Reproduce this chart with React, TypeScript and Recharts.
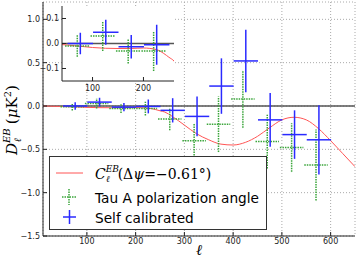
import React from 'react';
import { ComposedChart, Line, Scatter, ErrorBar, XAxis, YAxis, CartesianGrid, ReferenceLine } from 'recharts';

// multipole bins (centres) and half widths
const binCenters = [75, 125, 175, 225, 275, 325, 375, 425, 475, 525, 575];
const selfCalShift = 1;
const tauAShift = -5;
const selfCalHalfWidth = 25;
const tauAHalfWidth = 24;

// Self calibrated D_l^EB
const selfCal = [0.0, 0.045, -0.013, -0.005, -0.05, -0.12, 0.23, 0.52, -0.16, -0.33, -0.39];
const selfCalErr = [0.043, 0.05, 0.047, 0.08, 0.14, 0.23, 0.32, 0.36, 0.31, 0.28, 0.4];

// Tau A polarization angle D_l^EB
const tauA = [-0.01, 0.03, -0.03, -0.03, -0.15, -0.4, -0.21, 0.08, -0.41, -0.48, -0.68];
const tauAErr = [0.043, 0.06, 0.05, 0.08, 0.13, 0.2, 0.32, 0.33, 0.31, 0.28, 0.41];

// model curve C_l^EB (dpsi = -0.61 deg)
const curveEll = [10, 25, 50, 75, 100, 125, 150, 175, 200, 225, 240, 250, 260, 275, 300, 325, 350, 375, 400, 425, 450, 475, 500, 525, 550, 575, 600, 625, 650];
const curveEB = [0, -0.002, -0.006, -0.011, -0.016, -0.019, -0.02, -0.02, -0.018, -0.024, -0.04, -0.055, -0.07, -0.12, -0.22, -0.32, -0.39, -0.44, -0.45, -0.42, -0.35, -0.25, -0.16, -0.13, -0.16, -0.26, -0.4, -0.55, -0.7];

const xTicks = [100, 200, 300, 400, 500, 600];
const yTicks = [-1.5, -1.0, -0.5, 0.0, 0.5, 1.0];
const insetXTicks = [100, 200];
const insetYTicks = [-0.1, 0.0, 0.1];
const insetBins = 4;

const selfData = binCenters.map((c, i) => ({ l: c + selfCalShift, v: selfCal[i], dx: selfCalHalfWidth, dy: selfCalErr[i] }));
const tauData = binCenters.map((c, i) => ({ l: c + tauAShift, v: tauA[i], dx: tauAHalfWidth, dy: tauAErr[i] }));
const curveData = curveEll.map((l, i) => ({ l, v: curveEB[i] }));

const BLUE = '#2a2aff';
const GREEN = '#3aa53a';
const RED = '#ff5555';
const AXIS = '#222';
const fmt = (v: number) => v.toFixed(1).replace('-', '\u2212');
const tickStyle = { fill: '#222', fontSize: 8, fontFamily: 'DejaVu Sans' };
const Empty = () => <g />;

export default function App() {
  return (
    <div style={{ position: 'absolute', left: 0, top: 0, width: 357, height: 261, background: '#fff' }}>
      <div style={{ position: 'absolute', left: 0, top: 0 }}>
        <ComposedChart width={357} height={261} margin={{ top: 2, right: 2, bottom: 0, left: 13 }}>
          <CartesianGrid stroke="#aaa" strokeDasharray="1 2" />
          <XAxis dataKey="l" type="number" domain={[10, 650]} allowDataOverflow ticks={xTicks} interval={0}
            height={25} tickSize={-4} tickMargin={6} tick={tickStyle} stroke={AXIS} />
          <XAxis xAxisId="top" orientation="top" type="number" domain={[10, 650]} allowDataOverflow ticks={xTicks}
            interval={0} height={0} tickSize={-4} tick={false} stroke={AXIS} />
          <YAxis dataKey="v" type="number" domain={[-1.5, 1.2]} allowDataOverflow ticks={yTicks} interval={0}
            width={30} tickSize={-4} tickMargin={7} tick={tickStyle} tickFormatter={fmt} stroke={AXIS} />
          <YAxis yAxisId="right" orientation="right" type="number" domain={[-1.5, 1.2]} allowDataOverflow ticks={yTicks}
            interval={0} width={0} tickSize={-4} tick={false} stroke={AXIS} />
          <ReferenceLine y={0} stroke="#555" strokeWidth={1.5} />
          <Line data={curveData} dataKey="v" type="monotone" stroke={RED} strokeWidth={1} dot={false} isAnimationActive={false} />
          <Scatter data={tauData} dataKey="v" shape={Empty} isAnimationActive={false}>
            <ErrorBar dataKey="dx" direction="x" width={0} stroke={GREEN} strokeWidth={1.5} strokeDasharray="1.5 1" />
            <ErrorBar dataKey="dy" direction="y" width={0} stroke={GREEN} strokeWidth={1.5} strokeDasharray="1.5 1" />
          </Scatter>
          <Scatter data={selfData} dataKey="v" shape={Empty} isAnimationActive={false}>
            <ErrorBar dataKey="dx" direction="x" width={0} stroke={BLUE} strokeWidth={1.5} />
            <ErrorBar dataKey="dy" direction="y" width={0} stroke={BLUE} strokeWidth={1.5} />
          </Scatter>
        </ComposedChart>
      </div>

      {/* inset zoom on the low multipoles */}
      <div style={{ position: 'absolute', left: 40, top: 5 }}>
        <ComposedChart width={135} height={90} margin={{ top: 1, right: 1, bottom: 0, left: 0 }}>
          <CartesianGrid horizontal={false} vertical={false} fill="#fff" fillOpacity={1} />
          <XAxis dataKey="l" type="number" domain={[40, 260]} allowDataOverflow ticks={insetXTicks} interval={0}
            height={14} tickSize={-4} tickMargin={8} tick={tickStyle} stroke={AXIS} />
          <XAxis xAxisId="top" orientation="top" type="number" domain={[40, 260]} allowDataOverflow ticks={insetXTicks}
            interval={0} height={0} tickSize={-4} tick={false} stroke={AXIS} />
          <YAxis dataKey="v" type="number" domain={[-0.15, 0.15]} allowDataOverflow ticks={insetYTicks} interval={0}
            width={22} tickSize={-4} tickMargin={7} tick={tickStyle} tickFormatter={fmt} stroke={AXIS} />
          <YAxis yAxisId="right" orientation="right" type="number" domain={[-0.15, 0.15]} allowDataOverflow ticks={insetYTicks}
            interval={0} width={0} tickSize={-4} tick={false} stroke={AXIS} />
          <ReferenceLine y={0} stroke="#555" strokeWidth={1.5} />
          <Line data={curveData} dataKey="v" type="monotone" stroke={RED} strokeWidth={1} dot={false} isAnimationActive={false} />
          <Scatter data={tauData.slice(0, insetBins)} dataKey="v" shape={Empty} isAnimationActive={false}>
            <ErrorBar dataKey="dx" direction="x" width={0} stroke={GREEN} strokeWidth={1.5} strokeDasharray="1.5 1" />
            <ErrorBar dataKey="dy" direction="y" width={0} stroke={GREEN} strokeWidth={1.5} strokeDasharray="1.5 1" />
          </Scatter>
          <Scatter data={selfData.slice(0, insetBins)} dataKey="v" shape={Empty} isAnimationActive={false}>
            <ErrorBar dataKey="dx" direction="x" width={0} stroke={BLUE} strokeWidth={1.5} />
            <ErrorBar dataKey="dy" direction="y" width={0} stroke={BLUE} strokeWidth={1.5} />
          </Scatter>
        </ComposedChart>
      </div>

      {/* axis labels and legend */}
      <svg width={357} height={261} style={{ position: 'absolute', left: 0, top: 0, pointerEvents: 'none' }}>
        <g transform="translate(17,113) rotate(-90)" fontFamily="DejaVu Serif" fill="#000">
          <text x={-42} y={0} fontSize={15}>
            <tspan fontStyle="italic">D</tspan>
            <tspan fontSize={10} fontStyle="italic" dy={-7}>EB</tspan>
            <tspan fontSize={10} fontStyle="italic" dx={-14} dy={11}>ℓ</tspan>
            <tspan dx={14} dy={-4}>(</tspan>
            <tspan fontStyle="italic">μ</tspan>
            <tspan>K</tspan>
            <tspan fontSize={10} dy={-6}>2</tspan>
            <tspan dy={6}>)</tspan>
          </text>
        </g>
        <text x={199} y={255} textAnchor="middle" fontFamily="DejaVu Serif" fontStyle="italic" fontSize={15}>ℓ</text>

        <rect x={49.5} y={156.5} width={217} height={73} fill="#fff" stroke="#333" strokeWidth={1} />
        <line x1={56} y1={173} x2={83} y2={173} stroke={RED} strokeWidth={1} />
        <text x={95} y={179} fontFamily="DejaVu Serif" fontSize={14}>
          <tspan fontStyle="italic">C</tspan>
          <tspan fontSize={9} fontStyle="italic" dy={-7}>EB</tspan>
          <tspan fontSize={9} fontStyle="italic" dx={-13} dy={10}>ℓ</tspan>
          <tspan dx={8} dy={-3}>(Δ</tspan>
          <tspan fontStyle="italic">ψ</tspan>
          <tspan>=−0.61°)</tspan>
        </text>
        <line x1={62} y1={197} x2={76} y2={197} stroke={GREEN} strokeWidth={1.5} strokeDasharray="1.5 1" />
        <line x1={69} y1={189} x2={69} y2={205} stroke={GREEN} strokeWidth={1.5} strokeDasharray="1.5 1" />
        <text x={95} y={203} fontFamily="DejaVu Sans" fontSize={13.7}>Tau A polarization angle</text>
        <line x1={63} y1={217} x2={76} y2={217} stroke={BLUE} strokeWidth={1.5} />
        <line x1={69.5} y1={210} x2={69.5} y2={224} stroke={BLUE} strokeWidth={1.5} />
        <text x={95} y={223} fontFamily="DejaVu Sans" fontSize={13.7}>Self calibrated</text>
      </svg>
    </div>
  );
}
